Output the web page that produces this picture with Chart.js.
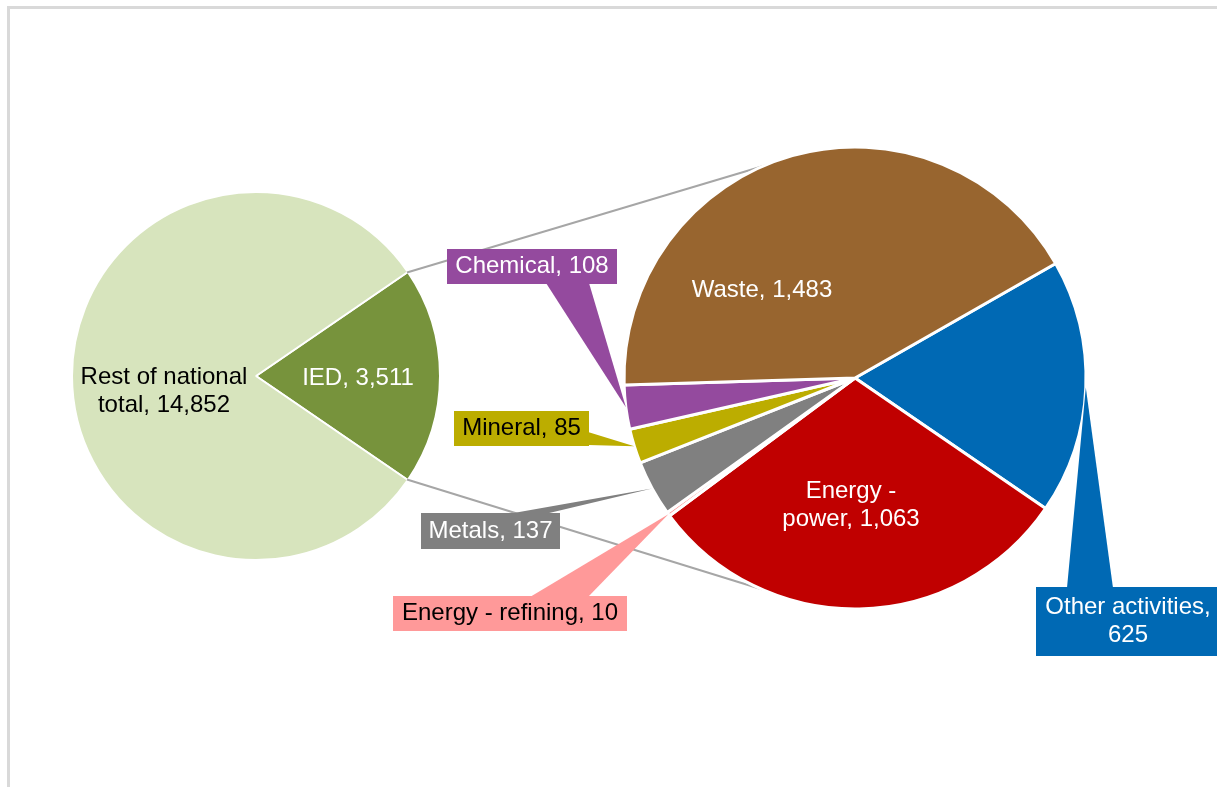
<!DOCTYPE html>
<html>
<head>
<meta charset="utf-8">
<title>IED share of national total</title>
<script src="https://cdn.jsdelivr.net/npm/chart.js@4/dist/chart.umd.min.js"></script>
<style>
  html, body { margin: 0; padding: 0; background: #fff; overflow: hidden; }
  #wrap { position: relative; width: 1217px; height: 787px; }
  #frame { position: absolute; left: 7px; top: 6px; width: 1300px; height: 800px; border: 3px solid #d9d9d9; }
  canvas { position: absolute; left: 0; top: 0; }
</style>
</head>
<body>
<div id="wrap">
  <div id="frame"></div>
  <canvas id="totalPie" width="1217" height="787"></canvas>
  <canvas id="iedPie" width="1217" height="787"></canvas>
</div>
<script>
var totalLabels = ['IED', 'Rest of national total'];
var totalValues = [3511, 14852];

var iedLabels = ['Other activities', 'Energy - power', 'Energy - refining', 'Metals', 'Mineral', 'Chemical', 'Waste'];
var iedValues = [625, 1063, 10, 137, 85, 108, 1483];

var totalColors = ['#77933c', '#d7e4bd'];
var iedColors = ['#0069b4', '#c00000', '#ff9999', '#808080', '#bcad00', '#944a9e', '#98652f'];

var FONT = '24px "Liberation Sans", Arial, sans-serif';
var LINE_H = 28;
var JOIN_ANGLE = 109 * Math.PI / 180;   // where the grey joining lines meet the second pie (from 3 o'clock)

// plain labels have x/y, callouts have a box and a pointer side
var totalLabelPos = [
	{ x: 358, y: 378, color: '#fff' },
	{ x: 164, y: 391, color: '#000', wrap: 172 }
];
var iedLabelPos = [
	{ box: [1036, 587, 184, 69], pointer: ['top', 1067, 1113], color: '#fff', wrap: 180 },
	{ x: 851, y: 505, color: '#fff', wrap: 150 },
	{ box: [393, 596, 234, 35], pointer: ['top', 530, 588], color: '#000' },
	{ box: [421, 513, 139, 36], pointer: ['top', 508, 545], color: '#fff' },
	{ box: [454, 411, 135, 35], pointer: ['right', 432, 445], color: '#000' },
	{ box: [447, 249, 170, 35], pointer: ['bottom', 546, 589], color: '#fff' },
	{ x: 762, y: 290, color: '#fff' }
];

function fmt(v) { return v.toLocaleString('en-US'); }

function wrapText(ctx, text, maxW) {
	if (!maxW) return [text];
	var words = text.split(' '), lines = [], line = '';
	words.forEach(function(w) {
		var test = line ? line + ' ' + w : w;
		if (line && ctx.measureText(test).width > maxW) {
			lines.push(line);
			line = w;
		} else {
			line = test;
		}
	});
	lines.push(line);
	return lines;
}

function drawText(ctx, text, x, y, color, wrap) {
	ctx.font = FONT;
	ctx.fillStyle = color;
	ctx.textAlign = 'center';
	ctx.textBaseline = 'middle';
	var lines = wrapText(ctx, text, wrap);
	var y0 = y - (lines.length - 1) * LINE_H / 2;
	lines.forEach(function(l, i) { ctx.fillText(l, x, y0 + i * LINE_H); });
}

function drawCallout(ctx, arc, pos, text) {
	var mid = (arc.startAngle + arc.endAngle) / 2;
	var tipX = arc.x + arc.outerRadius * Math.cos(mid);
	var tipY = arc.y + arc.outerRadius * Math.sin(mid);
	var b = pos.box, p = pos.pointer;
	ctx.fillStyle = arc.options.backgroundColor;
	ctx.beginPath();
	if (p[0] === 'top') {
		ctx.moveTo(p[1], b[1] + 1); ctx.lineTo(p[2], b[1] + 1);
	} else if (p[0] === 'bottom') {
		ctx.moveTo(p[1], b[1] + b[3] - 1); ctx.lineTo(p[2], b[1] + b[3] - 1);
	} else {
		ctx.moveTo(b[0] + b[2] - 1, p[1]); ctx.lineTo(b[0] + b[2] - 1, p[2]);
	}
	ctx.lineTo(tipX, tipY);
	ctx.closePath();
	ctx.fill();
	ctx.fillRect(b[0], b[1], b[2], b[3]);
	drawText(ctx, text, b[0] + b[2] / 2, b[1] + b[3] / 2, pos.color, pos.wrap);
}

function labelsPlugin(labels, values, layout) {
	return {
		id: 'sliceLabels',
		afterDatasetsDraw: function(chart) {
			var ctx = chart.ctx;
			var arcs = chart.getDatasetMeta(0).data;
			ctx.save();
			arcs.forEach(function(arc, i) {
				var text = labels[i] + ', ' + fmt(values[i]);
				var pos = layout[i];
				if (pos.box) drawCallout(ctx, arc, pos, text);
				else drawText(ctx, text, pos.x, pos.y, pos.color, pos.wrap);
			});
			ctx.restore();
		}
	};
}

var totalSum = totalValues.reduce(function(a, b) { return a + b; }, 0);
var iedSweep = 360 * totalValues[0] / totalSum;

// first pie: IED slice centred on the right-hand side
var totalChart = new Chart(document.getElementById('totalPie'), {
	type: 'pie',
	data: {
		labels: totalLabels,
		datasets: [{
			data: totalValues,
			backgroundColor: totalColors,
			borderColor: '#ffffff',
			borderWidth: 2
		}]
	},
	options: {
		responsive: false,
		animation: false,
		events: [],
		rotation: 90 - iedSweep / 2,
		radius: 184,
		layout: { padding: { left: 0, right: 705, top: 0, bottom: 35 } },
		plugins: { legend: { display: false }, tooltip: { enabled: false } }
	},
	plugins: [labelsPlugin(totalLabels, totalValues, totalLabelPos)]
});

// grey lines joining the IED slice to the breakdown pie
var joinLines = {
	id: 'joinLines',
	beforeDatasetsDraw: function(chart) {
		var ied = totalChart.getDatasetMeta(0).data[0];
		var ref = chart.getDatasetMeta(0).data[0];
		var r = ref.outerRadius - 1.5;
		var ctx = chart.ctx;
		ctx.save();
		ctx.strokeStyle = '#a6a6a6';
		ctx.lineWidth = 2;
		[[ied.startAngle, -JOIN_ANGLE], [ied.endAngle, JOIN_ANGLE]].forEach(function(p) {
			ctx.beginPath();
			ctx.moveTo(ied.x + (ied.outerRadius - 1) * Math.cos(p[0]), ied.y + (ied.outerRadius - 1) * Math.sin(p[0]));
			ctx.lineTo(ref.x + r * Math.cos(p[1]), ref.y + r * Math.sin(p[1]));
			ctx.stroke();
		});
		ctx.restore();
	}
};

new Chart(document.getElementById('iedPie'), {
	type: 'pie',
	data: {
		labels: iedLabels,
		datasets: [{
			data: iedValues,
			backgroundColor: iedColors,
			borderColor: '#ffffff',
			borderWidth: 3
		}]
	},
	options: {
		responsive: false,
		animation: false,
		events: [],
		rotation: 60.3,
		radius: 231,
		layout: { padding: { left: 493, right: 0, top: 0, bottom: 31 } },
		plugins: { legend: { display: false }, tooltip: { enabled: false } }
	},
	plugins: [joinLines, labelsPlugin(iedLabels, iedValues, iedLabelPos)]
});
</script>
</body>
</html>
